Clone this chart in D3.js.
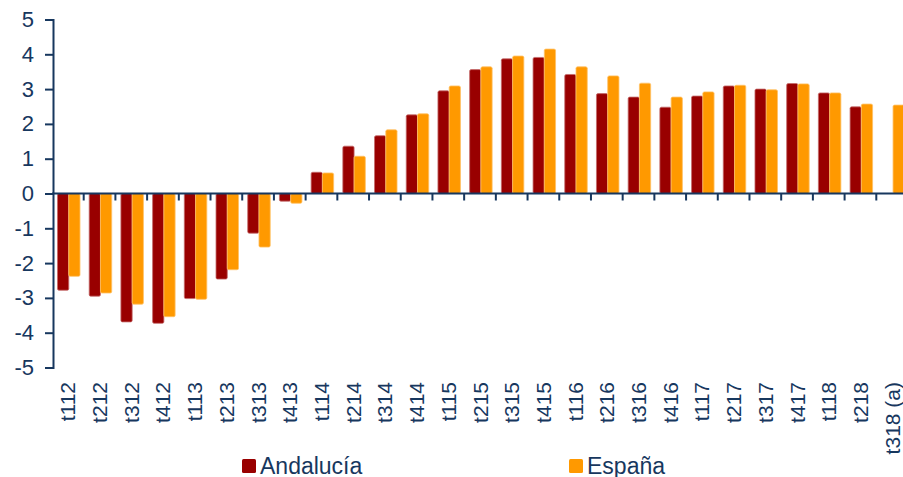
<!DOCTYPE html>
<html>
<head>
<meta charset="utf-8">
<script src="https://cdn.jsdelivr.net/npm/d3@7"></script>
<style>
  body { margin: 0; background: #fff; }
  text { font-family: "Liberation Sans", Arial, sans-serif; fill: #17375e; }
</style>
</head>
<body>
<svg id="chart" width="903" height="477"></svg>
<script>
// quarters on the x axis
var periods = ["t112","t212","t312","t412","t113","t213","t313","t413",
  "t114","t214","t314","t414","t115","t215","t315","t415",
  "t116","t216","t316","t416","t117","t217","t317","t417",
  "t118","t218","t318 (a)"];

var andalucia = [-2.78,-2.95,-3.69,-3.73,-3.02,-2.46,-1.14,-0.22,
  0.61,1.36,1.66,2.26,2.95,3.56,3.87,3.91,
  3.42,2.87,2.77,2.48,2.80,3.09,3.00,3.16,
  2.89,2.49,null];

var espana = [-2.38,-2.86,-3.18,-3.54,-3.04,-2.19,-1.54,-0.28,
  0.59,1.07,1.83,2.29,3.09,3.64,3.95,4.15,
  3.64,3.38,3.17,2.77,2.92,3.11,2.98,3.15,
  2.89,2.57,2.54];

var yTicks = [5,4,3,2,1,0,-1,-2,-3,-4,-5];

var seriesNames = ["Andalucía", "España"];
var colors = ["#990000", "#ff9900"];
var strokes = ["#c46a6a", "#ffc266"];

var svg = d3.select("#chart");
var navy = "#17375e";

var x = d3.scaleBand().domain(periods).range([52, 908]).padding(0);
var y = d3.scaleLinear().domain([-5, 5]).range([367.5, 19.5]);
var x1 = d3.scaleBand().domain([0, 1]).range([5.5, 28]).padding(0);

var rows = [];
periods.forEach(function(p, i){
  rows.push({period: p, s: 0, v: andalucia[i]});
  rows.push({period: p, s: 1, v: espana[i]});
});
rows = rows.filter(function(d){ return d.v != null; });

svg.append("g").selectAll("rect").data(rows).enter()
  .append("rect")
  .attr("x", function(d){ return x(d.period) + x1(d.s); })
  .attr("width", x1.bandwidth())
  .attr("y", function(d){ return Math.min(y(d.v), y(0)); })
  .attr("height", function(d){ return Math.abs(y(d.v) - y(0)); })
  .attr("rx", 1.5)
  .attr("fill", function(d){ return colors[d.s]; })
  .attr("stroke", function(d){ return strokes[d.s]; })
  .attr("stroke-width", 0.8);

// y axis
var yAxis = svg.append("g").attr("transform", "translate(53,0)")
  .call(d3.axisLeft(y).tickValues(yTicks).tickSize(8).tickPadding(11)
    .tickFormat(function(d){ return String(d); }));
yAxis.select(".domain").attr("stroke", navy).attr("stroke-width", 2);
yAxis.selectAll(".tick line").attr("stroke", navy).attr("stroke-width", 2);
yAxis.selectAll(".tick text")
  .style("font-size", "22px")
  .attr("fill", navy);

// x axis on zero, ticks at category edges
var xAxisG = svg.append("g");
xAxisG.append("line")
  .attr("x1", 52).attr("x2", 908)
  .attr("y1", y(0)).attr("y2", y(0))
  .attr("stroke", navy).attr("stroke-width", 2);
xAxisG.selectAll(".edge").data(periods.slice(1)).enter()
  .append("line")
  .attr("x1", function(d){ return x(d); })
  .attr("x2", function(d){ return x(d); })
  .attr("y1", y(0)).attr("y2", y(0) + 7)
  .attr("stroke", navy).attr("stroke-width", 2);

svg.append("g").selectAll("text").data(periods).enter()
  .append("text")
  .attr("transform", function(d){
    return "translate(" + (x(d) + x.bandwidth() / 2 + 7.5) + ",382) rotate(-90)";
  })
  .attr("text-anchor", "end")
  .style("font-size", "21px")
  .text(function(d){ return d; });

// legend
var legendX = [242, 569];
var legend = svg.append("g").selectAll("g").data(seriesNames).enter()
  .append("g")
  .attr("transform", function(d, i){ return "translate(" + legendX[i] + ",459)"; });
legend.append("rect")
  .attr("width", 14).attr("height", 14)
  .attr("rx", 1.5)
  .attr("fill", function(d, i){ return colors[i]; });
legend.append("text")
  .attr("x", 18).attr("y", 14.5)
  .style("font-size", "23px")
  .text(function(d){ return d; });
</script>
</body>
</html>
